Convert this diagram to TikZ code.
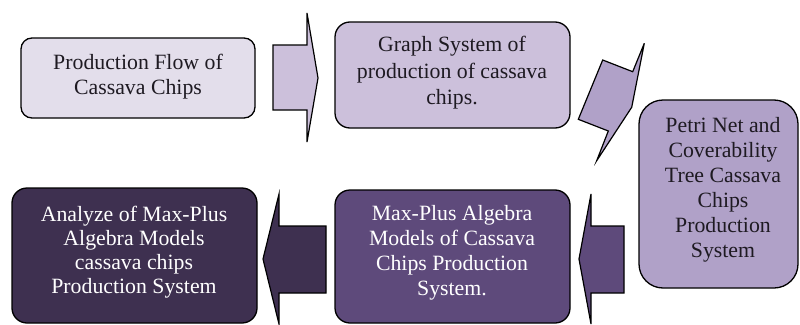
\documentclass[tikz,border=0pt]{standalone}
\usepackage{fontspec}
\setmainfont{Liberation Serif}
\definecolor{cA}{HTML}{E3DEEB}
\definecolor{cB}{HTML}{CCC0DB}
\definecolor{cC}{HTML}{B0A1C8}
\definecolor{cD}{HTML}{5E4A7B}
\definecolor{cE}{HTML}{3E3050}
\definecolor{ink}{HTML}{1E1A22}
\begin{document}
\begin{tikzpicture}[x=1pt,y=-1pt,
  stage/.style={draw=black,line width=1.3pt},
  label/.style={align=center,inner sep=0pt,font=\fontsize{21.8}{25}\selectfont},
  blockarrow/.style={draw=black,line width=1.2pt,line join=miter}]
\useasboundingbox (0,0) rectangle (800,324);

% stage boxes
\draw[stage,fill=cA,rounded corners=11pt] (21,38) rectangle (255,118);
\node[label,text=ink] (s1) at (138,77)
  {Production Flow of\\Cassava Chips};

\draw[stage,fill=cB,rounded corners=15pt] (335,22) rectangle (570,128);
\node[label,text=ink,font=\fontsize{21.8}{26.5}\selectfont] (s2) at (452,73)
  {Graph System of\\production of cassava\\chips.};

\draw[stage,fill=cC,rounded corners=24pt] (639,100) rectangle (798,288);
\node[label,text=ink] (s3) at (723,190)
  {Petri Net and\\Coverability\\Tree Cassava\\Chips\\Production\\System};

\draw[stage,fill=cD,rounded corners=15pt] (335,190) rectangle (570,323);
\node[label,text=white] (s4) at (452,253)
  {Max-Plus Algebra\\Models of Cassava\\Chips Production\\System.};

\draw[stage,fill=cE,rounded corners=15pt] (12,188) rectangle (257,323);
\node[label,text=white,font=\fontsize{21.8}{24}\selectfont] (s5) at (134,252)
  {Analyze of Max-Plus\\Algebra Models\\cassava chips\\Production System};

% block arrows between the stages
\draw[blockarrow,fill=cB] (273,45) -- (307,45) -- (307,13) -- (318,78)
  -- (307,142) -- (307,110) -- (273,110) -- cycle;
\draw[blockarrow,fill=cC] (644.3,43.3) -- (631.7,107.3) -- (596.7,160.7)
  -- (608.3,131) -- (578.3,119.3) -- (602.7,60) -- (632.7,71.7) -- cycle;
\draw[blockarrow,fill=cD] (624,226) -- (591,226) -- (591,194) -- (579,259)
  -- (591,324) -- (591,293) -- (624,293) -- cycle;
\draw[blockarrow,fill=cE] (326,226) -- (279,226) -- (279,194) -- (263,259)
  -- (279,324) -- (279,293) -- (326,293) -- cycle;
\end{tikzpicture}
\end{document}
